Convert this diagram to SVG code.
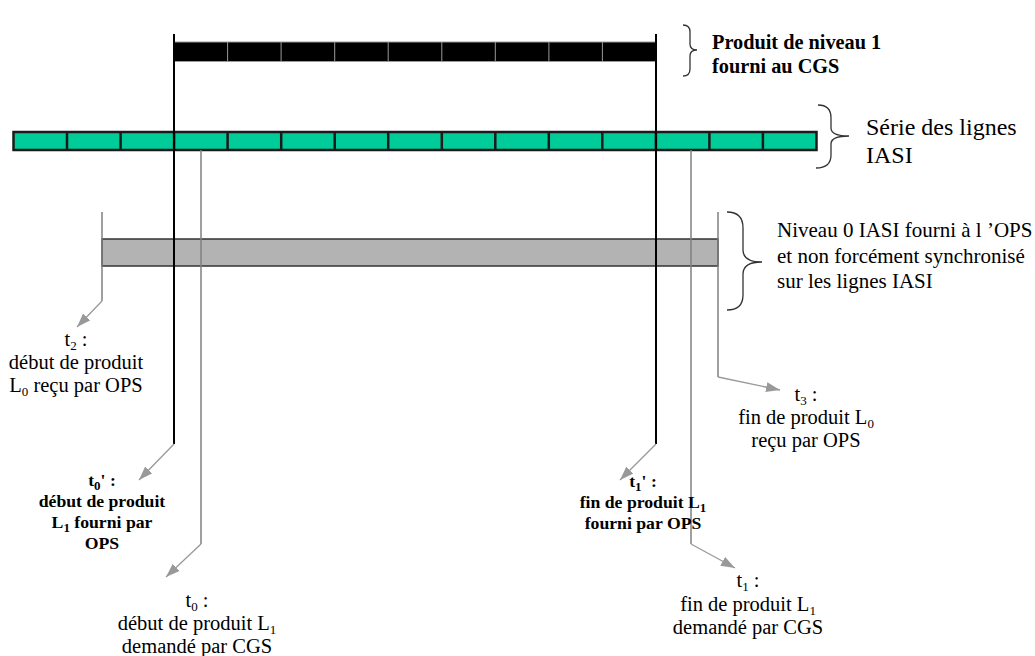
<svg xmlns="http://www.w3.org/2000/svg" width="1035" height="656" viewBox="0 0 1035 656">
<defs>
<style>
text{font-family:"Liberation Serif","Times New Roman",serif;fill:#000}
.r{font-size:20.5px}
.b{font-size:17.7px;font-weight:bold}
.m{text-anchor:middle}
.sub{font-size:13px}
.cell{stroke:#999;stroke-width:1}
.gcell{stroke:#1a1a1a;stroke-width:2.5}
.vk{stroke:#000;stroke-width:2;fill:none}
.vg{stroke:#808080;stroke-width:1.5;fill:none}
.arr{stroke:#999;stroke-width:1.3;fill:none;marker-end:url(#ah)}
.brace{stroke:#333;stroke-width:1.3;fill:none}
</style>
<marker id="ah" viewBox="0 0 14 10" refX="14" refY="5" markerWidth="14" markerHeight="10" markerUnits="userSpaceOnUse" orient="auto">
<path d="M0,0 L14,5 L0,10 z" fill="#999"/>
</marker>
</defs>
<rect width="1035" height="656" fill="#fff"/>

<g id="niveau1-bar">
<rect x="174" y="42" width="482" height="19.5" fill="#000" class="cell"/>
<path class="cell" d="M227.6,42V61.5M281.1,42V61.5M334.7,42V61.5M388.2,42V61.5M441.8,42V61.5M495.3,42V61.5M548.9,42V61.5M602.4,42V61.5"/>
</g>

<g id="lignes-iasi-bar">
<rect x="13.5" y="132" width="803" height="18" fill="#00CC99" class="gcell"/>
<path class="gcell" d="M67,132V150M120.6,132V150M174.1,132V150M227.6,132V150M281.2,132V150M334.7,132V150M388.2,132V150M441.8,132V150M495.3,132V150M548.8,132V150M602.3,132V150M655.9,132V150M709.4,132V150M762.9,132V150"/>
</g>

<g id="niveau0-bar">
<rect x="102" y="239" width="616" height="27" fill="#B3B3B3" stroke="#333" stroke-width="1.5"/>
</g>

<g id="connectors">
<line class="vk" x1="174" y1="34" x2="174" y2="444"/>
<line class="vk" x1="656" y1="34" x2="656" y2="444"/>
<line class="vg" x1="201" y1="150" x2="201" y2="544"/>
<line class="vg" x1="691" y1="150" x2="691" y2="544"/>
<line class="vg" x1="102" y1="212" x2="102" y2="301"/>
<line class="vg" x1="718" y1="212" x2="718" y2="377"/>
<line class="arr" x1="102" y1="301" x2="77" y2="327"/>
<line class="arr" x1="718" y1="377" x2="780" y2="390"/>
<line class="arr" x1="174" y1="444" x2="139" y2="480"/>
<line class="arr" x1="656" y1="444" x2="620" y2="480"/>
<line class="arr" x1="201" y1="544" x2="166" y2="577"/>
<line class="arr" x1="691" y1="544" x2="735" y2="568"/>
</g>

<g id="brace-niveau1">
<path class="brace" d="M683,25 Q690,25 690,32 L690,44 Q690,50 697,50 Q690,50 690,56 L690,69 Q690,76 683,76"/>
<text x="712" y="49" style="font-size:20.3px;font-weight:bold">Produit de niveau 1</text>
<text x="712" y="73" style="font-size:20.3px;font-weight:bold">fourni au CGS</text>
</g>

<g id="brace-lignes">
<path class="brace" d="M818,105 Q831,105 831,118 L831,128 Q831,136 849,136 Q831,136 831,144 L831,155 Q831,168 816,168"/>
<text x="866" y="135" style="font-size:24px">Série des lignes</text>
<text x="866" y="163" style="font-size:24px">IASI</text>
</g>

<g id="brace-niveau0">
<path class="brace" d="M727,212 Q743,212 743,228 L743,250 Q743,262 762,262 Q743,262 743,274 L743,295 Q743,310 727,310"/>
<text x="777" y="237" style="font-size:21px">Niveau 0 IASI fourni à l ’OPS</text>
<text x="777" y="263" style="font-size:21px">et non forcément synchronisé</text>
<text x="777" y="288" style="font-size:21px">sur les lignes IASI</text>
</g>

<g id="label-t2">
<text class="r m" x="76" y="346">t<tspan class="sub" dy="4">2</tspan><tspan dy="-4"> :</tspan></text>
<text class="r m" x="76" y="369">début de produit</text>
<text class="r m" x="76" y="392">L<tspan class="sub" dy="4">0</tspan><tspan dy="-4"> reçu par OPS</tspan></text>
</g>

<g id="label-t3">
<text class="r m" x="806" y="401">t<tspan class="sub" dy="4">3</tspan><tspan dy="-4"> :</tspan></text>
<text class="r m" x="806" y="424">fin de produit L<tspan class="sub" dy="4">0</tspan></text>
<text class="r m" x="806" y="447">reçu par OPS</text>
</g>

<g id="label-t0prime">
<text class="b m" x="102" y="486">t<tspan class="sub" dy="4">0</tspan><tspan dy="-4">' :</tspan></text>
<text class="b m" x="102" y="507">début de produit</text>
<text class="b m" x="102" y="528">L<tspan class="sub" dy="4">1</tspan><tspan dy="-4"> fourni par</tspan></text>
<text class="b m" x="102" y="549">OPS</text>
</g>

<g id="label-t1prime">
<text class="b m" x="643" y="487">t<tspan class="sub" dy="4">1</tspan><tspan dy="-4">' :</tspan></text>
<text class="b m" x="643" y="508">fin de produit L<tspan class="sub" dy="4">1</tspan></text>
<text class="b m" x="643" y="529">fourni par OPS</text>
</g>

<g id="label-t0">
<text class="r m" x="197" y="607">t<tspan class="sub" dy="4">0</tspan><tspan dy="-4"> :</tspan></text>
<text class="r m" x="197" y="630">début de produit L<tspan class="sub" dy="4">1</tspan></text>
<text class="r m" x="197" y="653">demandé par CGS</text>
</g>

<g id="label-t1">
<text class="r m" x="748" y="587">t<tspan class="sub" dy="4">1</tspan><tspan dy="-4"> :</tspan></text>
<text class="r m" x="748" y="611">fin de produit L<tspan class="sub" dy="4">1</tspan></text>
<text class="r m" x="748" y="634">demandé par CGS</text>
</g>
</svg>
